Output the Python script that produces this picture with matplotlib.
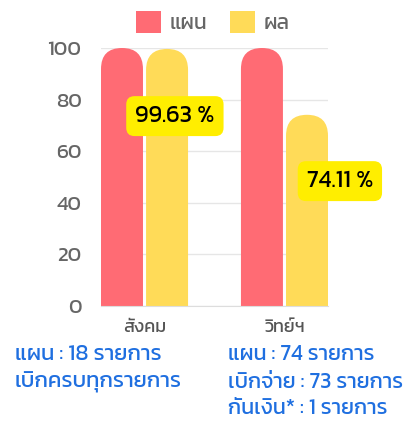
import matplotlib
matplotlib.use("Agg")
import matplotlib.pyplot as plt
import numpy as np
from matplotlib.patches import FancyBboxPatch, Patch

plt.rcParams['font.family'] = ['Kanit', 'DejaVu Sans']

# ข้อมูล
categories = ['สังคม', 'วิทย์ฯ']
plan = [100, 100]
result = [99.63, 74.11]
pct_labels = ['99.63 %', '74.11 %']
series_names = ['แผน', 'ผล']
notes_left = ['แผน : 18 รายการ', 'เบิกครบทุกรายการ']
notes_right = ['แผน : 74 รายการ', 'เบิกจ่าย : 73 รายการ', 'กันเงิน* : 1 รายการ']

# สไตล์
red = '#FF6B74'
yellow = '#FFDB58'
label_dx = [0.056, 0.235]      # ตำแหน่งป้ายเทียบกับแท่ง
label_y = [73.6, 48.4]

fig = plt.figure(figsize=(4.09, 4.22), dpi=100)
ax = fig.add_axes([101 / 409, 1 - 306 / 422, 227 / 409, 258 / 422])

x = np.arange(len(categories))
w = 0.3
off = 0.161
b1 = ax.bar(x - off, plan, w, color=red, label=series_names[0])
b2 = ax.bar(x + off, result, w, color=yellow, label=series_names[1])

ax.set_xlim(-0.311, 1.311)
ax.set_ylim(0, 100)

# ทำหัวแท่งให้มน
fig.canvas.draw()
px_x = ax.transData.transform((1, 0))[0] - ax.transData.transform((0, 0))[0]
px_y = ax.transData.transform((0, 1))[1] - ax.transData.transform((0, 0))[1]
aspect = px_x / px_y
for cont in (b1, b2):
    for r in cont:
        r.set_visible(False)
        rx = r.get_width() / 2
        ry = rx * aspect
        p = FancyBboxPatch((r.get_x(), -ry), r.get_width(), r.get_height() + ry,
                           boxstyle='round,pad=0,rounding_size=%f' % rx,
                           mutation_aspect=aspect, fc=r.get_facecolor(),
                           ec='none', clip_on=True, zorder=2)
        ax.add_patch(p)

ax.set_yticks([0, 20, 40, 60, 80, 100])
ax.tick_params(axis='y', length=0, pad=14, labelsize=15, labelcolor='#666666')
ax.set_xticks([])
ax.grid(axis='y', color='#e6e6e6', linewidth=1, zorder=0)
ax.set_axisbelow(True)
for s in ['top', 'right', 'left']:
    ax.spines[s].set_visible(False)
ax.spines['bottom'].set_color('#dddddd')

# ป้ายเปอร์เซ็นต์
for i, t in enumerate(pct_labels):
    ax.text(x[i] + off + label_dx[i], label_y[i], t, ha='center', va='center',
            fontsize=17, color='black', zorder=5, clip_on=False,
            bbox=dict(boxstyle='round,pad=0.38,rounding_size=0.35',
                      fc='#FFEE00', ec='none'))

# ชื่อกลุ่ม
for i, c in enumerate(categories):
    ax.text(x[i], -5, c, ha='center', va='top', fontsize=13,
            color='#555555', transform=ax.transData)

# คำอธิบายใต้กราฟ
blue = '#1F6FE0'
for i, t in enumerate(notes_left):
    fig.text(15 / 409, 1 - (355 + i * 27) / 422, t, ha='left', va='center',
             fontsize=15.8, color=blue)
for i, t in enumerate(notes_right):
    fig.text(228 / 409, 1 - (355 + i * 27) / 422, t, ha='left', va='center',
             fontsize=15.5, color=blue)

# ตำนาน
handles = [Patch(fc=red, ec='none'), Patch(fc=yellow, ec='none')]
leg = fig.legend(handles=handles, labels=series_names, loc='center',
                 bbox_to_anchor=(213 / 409, 1 - 22 / 422), ncol=2,
                 frameon=False, fontsize=15, handlelength=1.2,
                 handleheight=1.2, handletextpad=0.4, columnspacing=1.1,
                 labelcolor='#666666')

fig.savefig('out.png', dpi=100)
